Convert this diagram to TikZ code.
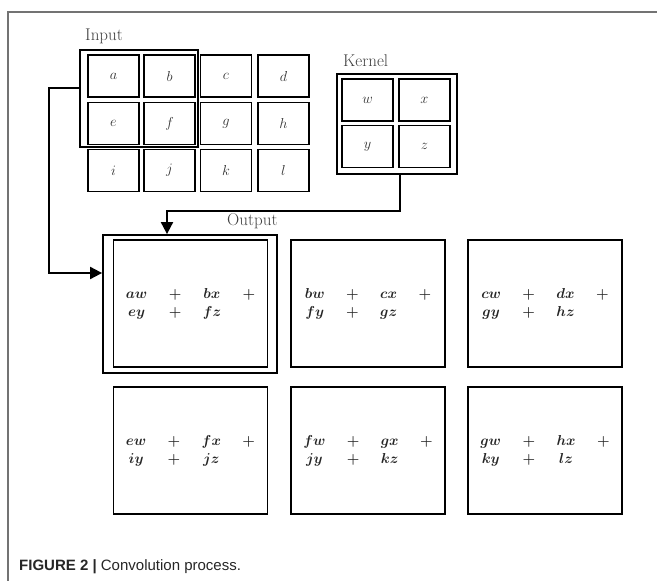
\documentclass[tikz,border=0pt]{standalone}
\usepackage{fontspec}
\newfontfamily\capfont{Liberation Sans}
\usetikzlibrary{arrows.meta}
\begin{document}
\begin{tikzpicture}[x=1pt,y=-1pt,
  cell/.style={draw, line width=1.8pt, minimum width=51pt, minimum height=42pt, inner sep=0pt, font=\fontsize{15}{18}\selectfont, text=black!80},
  hl/.style={draw, line width=1.8pt, inner sep=0pt},
  obox/.style={draw, line width=1.8pt, minimum width=154pt, minimum height=127pt, inner sep=0pt,
    font=\fontsize{15}{18}\selectfont\boldmath\setlength{\arraycolsep}{10.7pt}, text=black!85},
  lbl/.style={font=\fontsize{17}{20}\selectfont, inner sep=0pt, anchor=west, text=black!75},
  conn/.style={line width=1.9pt, -{Triangle[length=12pt,width=12pt]}}
]
\useasboundingbox (0,0) rectangle (657,581);
\draw[black!55, line width=1.2pt] (8,581) -- (8,12) -- (657,12);

% Input
\node[lbl] (inlbl) at (85,36) {Input};
\node[cell] (a) at (113.5,76) {$a$};
\node[cell] (b) at (169.5,76) {$b$};
\node[cell] (c) at (226,76) {$c$};
\node[cell] (d) at (283.5,76) {$d$};
\node[cell] (e) at (113.5,123.5) {$e$};
\node[cell] (f) at (169.5,123.5) {$f$};
\node[cell] (g) at (226,123.5) {$g$};
\node[cell] (h) at (283.5,123.5) {$h$};
\node[cell] (i) at (113.5,170.5) {$i$};
\node[cell] (j) at (169.5,170.5) {$j$};
\node[cell] (k) at (226,170.5) {$k$};
\node[cell] (l) at (283.5,170.5) {$l$};
\node[hl, minimum width=118pt, minimum height=97pt] (win) at (139,98.5) {};

% Kernel
\node[lbl] (klbl) at (343,61) {Kernel};
\node[cell] (w) at (367.5,100) {$w$};
\node[cell] (x) at (424.5,100) {$x$};
\node[cell] (y) at (367.5,146.5) {$y$};
\node[cell] (z) at (424.5,146.5) {$z$};
\node[hl, minimum width=120pt, minimum height=100pt] (kh) at (397,124) {};

% Output
\node[lbl] (olbl) at (227,221) {Output};
\node[obox] (o1) at (190.5,303.5) {$\begin{array}{cccc} aw & + & bx & + \\ ey & + & fz & \end{array}$};
\node[obox] (o2) at (368,303.5) {$\begin{array}{cccc} bw & + & cx & + \\ fy & + & gz & \end{array}$};
\node[obox] (o3) at (545,303.5) {$\begin{array}{cccc} cw & + & dx & + \\ gy & + & hz & \end{array}$};
\node[obox] (o4) at (190.5,450.5) {$\begin{array}{cccc} ew & + & fx & + \\ iy & + & jz & \end{array}$};
\node[obox] (o5) at (368,450.5) {$\begin{array}{cccc} fw & + & gx & + \\ jy & + & kz & \end{array}$};
\node[obox] (o6) at (545,450.5) {$\begin{array}{cccc} gw & + & hx & + \\ ky & + & lz & \end{array}$};
\node[hl, minimum width=174pt, minimum height=138pt] (oh) at (190,304) {};

% Connectors
\draw[conn] ([yshift=10.5pt]win.west) -- ++(-30,0) |- ([yshift=31pt]oh.west);
\draw[conn] ([xshift=3pt]kh.south) -- ++(0,36) -| ([xshift=-23pt]oh.north);

% Caption
\node[anchor=base west, inner sep=0pt, font=\capfont\fontsize{15}{18}\selectfont, text=black!85] (cap) at (19,570) {\textbf{FIGURE 2 |} Convolution process.};
\end{tikzpicture}
\end{document}
